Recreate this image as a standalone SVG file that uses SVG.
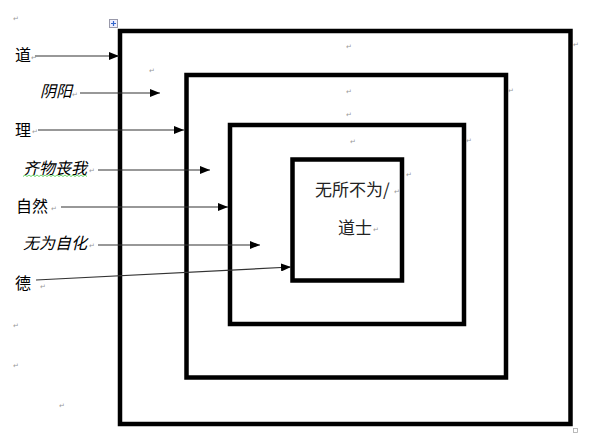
<svg xmlns="http://www.w3.org/2000/svg" width="592" height="445" viewBox="0 0 592 445">
<defs>
<marker id="ah" viewBox="0 0 10 8" refX="10" refY="4" markerWidth="10" markerHeight="8" markerUnits="userSpaceOnUse" orient="auto">
<path d="M0,0 L10,4 L0,8 Z" fill="#000"/>
</marker>
<style>
.box{fill:none;stroke:#000;stroke-width:4.5}
.lbl{font-family:"Noto Sans CJK SC","Noto Sans",sans-serif;font-size:16px;fill:#000}
.it{font-style:italic}
.inner{font-family:"Noto Sans CJK SC","Noto Sans",sans-serif;font-size:17px;fill:#222}
.pm{font-family:"DejaVu Sans",sans-serif;font-size:7px;fill:#999}
.con{stroke:#333;stroke-width:1.2;fill:none;marker-end:url(#ah)}
</style>
</defs>
<rect width="592" height="445" fill="#fff"/>

<g id="anchor">
<rect x="109.5" y="19.5" width="8" height="8" fill="#eef" stroke="#99a" stroke-width="1"/>
<path d="M113.5,21 V26 M111,23.5 H116" stroke="#36c" stroke-width="1.2"/>
</g>

<g id="box-outer"><rect class="box" x="120" y="31" width="450.5" height="393"/></g>
<g id="box-second"><rect class="box" x="186.5" y="75" width="319.5" height="302.5"/></g>
<g id="box-third"><rect class="box" x="230" y="125" width="234" height="199"/></g>
<g id="box-inner">
<rect class="box" x="292.5" y="159.5" width="109.5" height="121"/>
<text class="inner" x="315" y="196">无所不为/</text>
<text class="inner" x="338" y="234">道士</text>
</g>

<g id="label-dao"><text class="lbl" x="15" y="61">道</text></g>
<g id="label-yinyang"><text class="lbl it" x="40" y="97">阴阳</text></g>
<g id="label-li"><text class="lbl" x="15" y="136">理</text></g>
<g id="label-qiwu"><text class="lbl it" x="23" y="174">齐物丧我</text>
<path d="M23,176.5 l2,-1.5 l2,1.5 l2,-1.5 l2,1.5 l2,-1.5 l2,1.5 l2,-1.5 l2,1.5 l2,-1.5 l2,1.5 l2,-1.5 l2,1.5 l2,-1.5 l2,1.5 l2,-1.5 l2,1.5 l2,-1.5 l2,1.5 l2,-1.5 l2,1.5 l2,-1.5 l2,1.5 l2,-1.5 l2,1.5 l2,-1.5 l2,1.5 l2,-1.5 l2,1.5 l2,-1.5 l2,1.5 l2,-1.5 l2,1.5" fill="none" stroke="#4c4" stroke-width="0.8"/>
</g>
<g id="label-ziran"><text class="lbl" x="16" y="212">自然</text></g>
<g id="label-wuwei"><text class="lbl it" x="23" y="249">无为自化</text></g>
<g id="label-de"><text class="lbl" x="15" y="289">德</text></g>

<g id="connectors">
<line class="con" x1="35" y1="56" x2="119" y2="56"/>
<line class="con" x1="80" y1="93" x2="160" y2="93"/>
<line class="con" x1="38" y1="130" x2="184" y2="130"/>
<line class="con" x1="98" y1="170" x2="210" y2="170"/>
<line class="con" x1="61" y1="207" x2="228" y2="207"/>
<line class="con" x1="98" y1="245" x2="260" y2="245"/>
<line class="con" x1="36" y1="280" x2="291" y2="267"/>
</g>

<g id="marks">
<text class="pm" x="13" y="21">↵</text>
<text class="pm" x="31" y="60">↵</text>
<text class="pm" x="149" y="73">↵</text>
<text class="pm" x="72" y="97">↵</text>
<text class="pm" x="32" y="134">↵</text>
<text class="pm" x="89" y="173">↵</text>
<text class="pm" x="51" y="211">↵</text>
<text class="pm" x="89" y="248">↵</text>
<text class="pm" x="40" y="289">↵</text>
<text class="pm" x="13" y="328">↵</text>
<text class="pm" x="13" y="368">↵</text>
<text class="pm" x="59" y="408">↵</text>
<text class="pm" x="346" y="49">↵</text>
<text class="pm" x="573" y="47">↵</text>
<text class="pm" x="346" y="94">↵</text>
<text class="pm" x="508" y="93">↵</text>
<text class="pm" x="346" y="117">↵</text>
<text class="pm" x="350" y="144">↵</text>
<text class="pm" x="466" y="143">↵</text>
<text class="pm" x="406" y="177">↵</text>
<text class="pm" x="394" y="194">↵</text>
<text class="pm" x="373" y="232">↵</text>
<rect x="573.5" y="428.5" width="4" height="4" fill="none" stroke="#aaa" stroke-width="0.8"/>
</g>
</svg>
